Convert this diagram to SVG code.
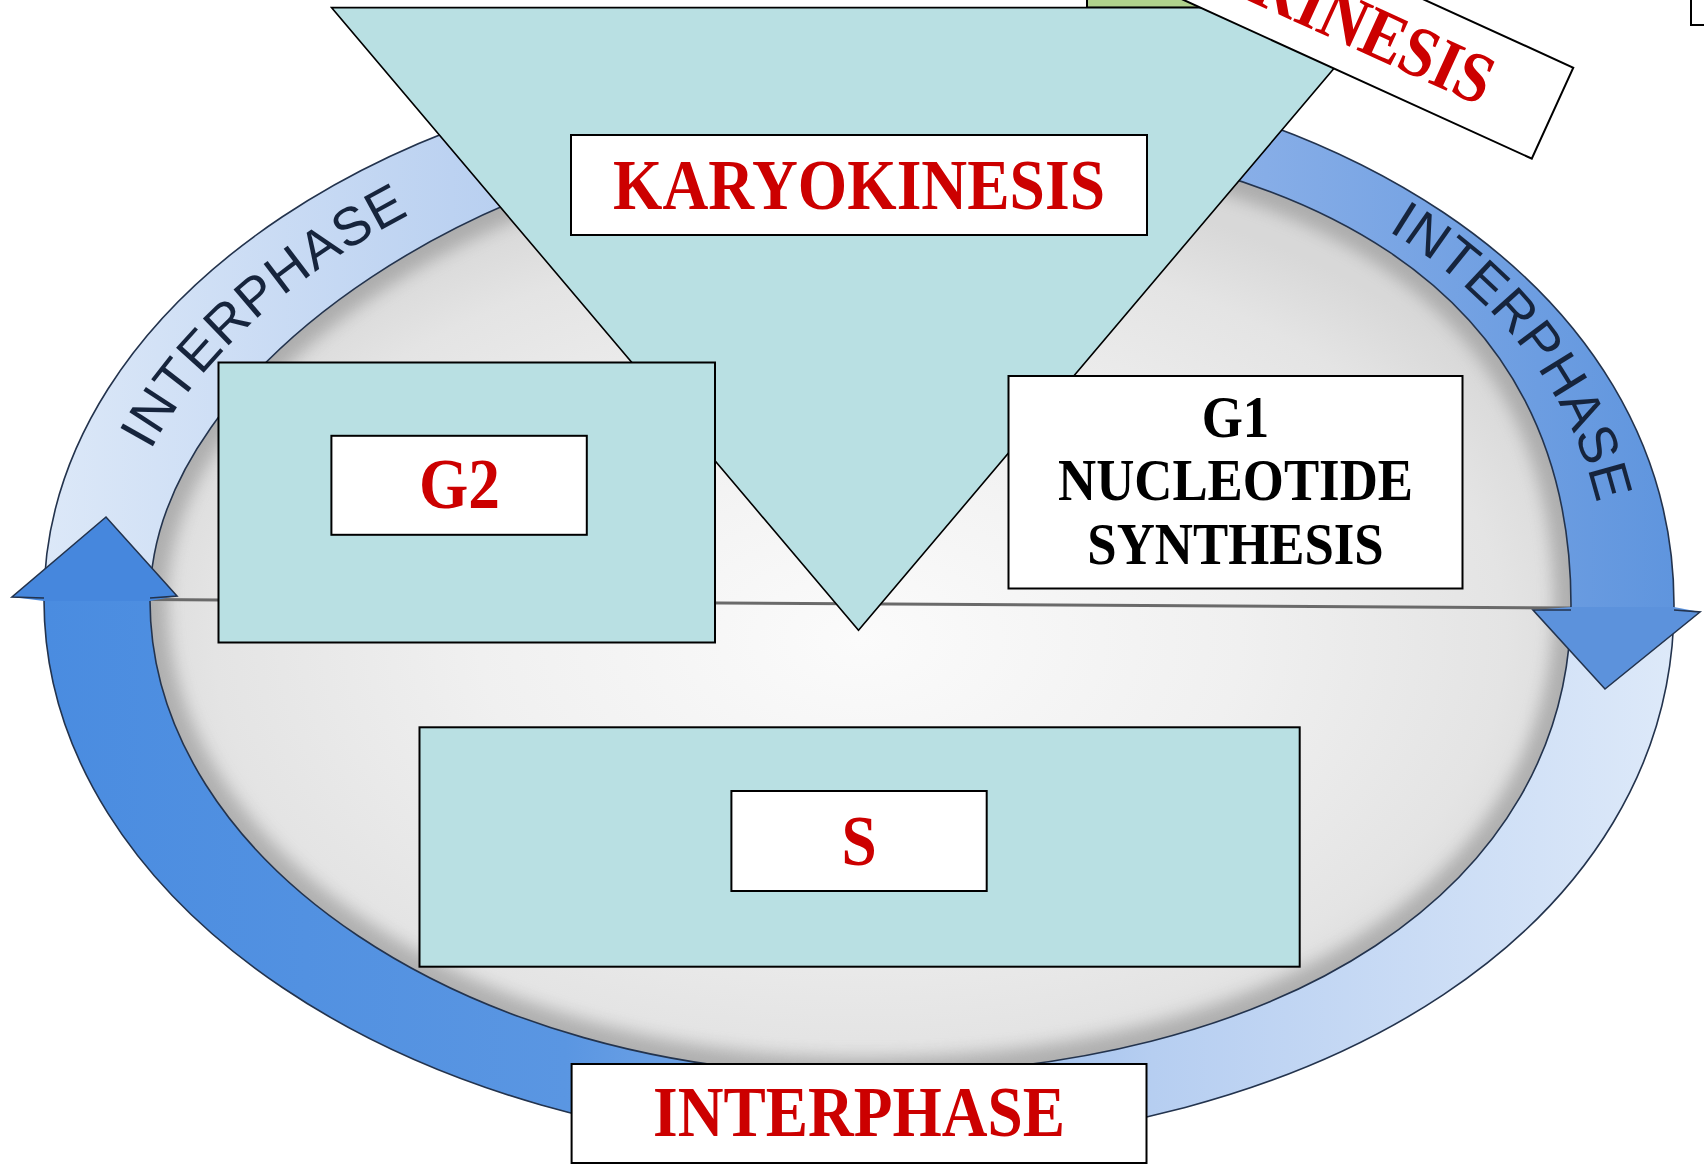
<svg xmlns="http://www.w3.org/2000/svg" width="1704" height="1165" viewBox="0 0 1704 1165">
<defs>
<style>
.teal{fill:#b9e0e3;stroke:#000;stroke-width:2}
.wbox{fill:#fff;stroke:#000;stroke-width:2}
.red{font-family:'Liberation Serif','Times New Roman',serif;font-weight:bold;font-size:72px;fill:#cc0000}
.blk{font-family:'Liberation Serif','Times New Roman',serif;font-weight:bold;font-size:60px;fill:#000}
.ring-lbl{font-family:'Liberation Sans',Arial,sans-serif;font-size:54px;fill:#16243c;letter-spacing:2px}
.edge{fill:none;stroke:#23334d;stroke-width:1.6}
</style>
<linearGradient id="upperGrad" gradientUnits="userSpaceOnUse" x1="44" y1="0" x2="1674" y2="0">
<stop offset="0" stop-color="#dce8f8"/>
<stop offset="0.25" stop-color="#bcd2f1"/>
<stop offset="0.75" stop-color="#86ade7"/>
<stop offset="1" stop-color="#5f95de"/>
</linearGradient>
<linearGradient id="lowerGrad" gradientUnits="userSpaceOnUse" x1="44" y1="0" x2="1674" y2="0">
<stop offset="0" stop-color="#4a8ce0"/>
<stop offset="0.32" stop-color="#5a96e2"/>
<stop offset="0.68" stop-color="#b6cef1"/>
<stop offset="1" stop-color="#dde9f9"/>
</linearGradient>
<radialGradient id="disk" gradientUnits="userSpaceOnUse" cx="860" cy="640" r="760" gradientTransform="translate(860,640) scale(1,0.62) translate(-860,-640)">
<stop offset="0" stop-color="#fbfbfb"/>
<stop offset="0.5" stop-color="#f0f0f0"/>
<stop offset="0.85" stop-color="#e4e4e4"/>
<stop offset="1" stop-color="#d8d8d8"/>
</radialGradient>
<filter id="blur" x="-10%" y="-10%" width="120%" height="120%"><feGaussianBlur stdDeviation="8"/></filter>
<path id="innerC" d="M150,600 C150,365 505,130 860,130 C1322,130 1571,296 1571,605 C1571,887 1286.6,1075 860,1075 C468,1075 150,862 150,600 Z"/>
<path id="outerC" d="M44,600 C44,300.7 408.4,58 858,58 C1331.3,58 1674,287.7 1674,605 C1674,920 1331.3,1148 858,1148 C408.4,1148 44,902.7 44,600 Z"/>
<clipPath id="innerClip"><use href="#innerC"/></clipPath>
<clipPath id="upperClip"><polygon points="0,0 1704,0 1704,611 0,598"/></clipPath>
<clipPath id="lowerClip"><polygon points="0,598 1704,611 1704,1165 0,1165"/></clipPath>
<path id="tlPath" d="M97,600 C97,332.9 456.7,94 859,94"/>
<path id="trPath" d="M859,94 C1326.7,94 1622.5,291.9 1622.5,605"/>
</defs>
<rect x="0" y="0" width="1704" height="1165" fill="#fff"/>

<g id="cell-disk">
<use href="#innerC" fill="url(#disk)"/>
<use href="#innerC" fill="none" stroke="#8a8a8a" stroke-width="34" opacity="0.55" filter="url(#blur)" clip-path="url(#innerClip)"/>
<line x1="150" y1="599.5" x2="1571" y2="608" stroke="#6a6a6a" stroke-width="3"/>
</g>

<g id="connectors">
<path d="M44,600 C44,300.7 408.4,58 858,58 C1331.3,58 1674,287.7 1674,605 C1674,920 1331.3,1148 858,1148 C408.4,1148 44,902.7 44,600 Z M150,600 C150,365 505,130 860,130 C1322,130 1571,296 1571,605 C1571,887 1286.6,1075 860,1075 C468,1075 150,862 150,600 Z" fill="url(#upperGrad)" fill-rule="evenodd" clip-path="url(#upperClip)"/>
<path d="M44,600 C44,300.7 408.4,58 858,58 C1331.3,58 1674,287.7 1674,605 C1674,920 1331.3,1148 858,1148 C408.4,1148 44,902.7 44,600 Z M150,600 C150,365 505,130 860,130 C1322,130 1571,296 1571,605 C1571,887 1286.6,1075 860,1075 C468,1075 150,862 150,600 Z" fill="url(#lowerGrad)" fill-rule="evenodd" clip-path="url(#lowerClip)"/>
<use href="#outerC" class="edge"/>
<use href="#innerC" class="edge"/>
<polygon points="12,597 106,517 177,596 150,601 44,601" fill="#4687dd"/>
<path d="M44,598 L12,597 L106,517 L177,596 L150,598" class="edge"/>
<polygon points="1533,610 1605,689 1700,612 1674,607 1571,607" fill="#5c92dc"/>
<path d="M1571,610 L1533,610 L1605,689 L1700,612 L1674,610" class="edge"/>
<text class="ring-lbl" dy="14"><textPath href="#tlPath" startOffset="346" text-anchor="middle">INTERPHASE</textPath></text>
<text class="ring-lbl" dy="14"><textPath href="#trPath" startOffset="740" text-anchor="middle">INTERPHASE</textPath></text>
</g>

<g id="top-partial-shapes">
<rect x="1087" y="-10" width="250" height="17.6" fill="#b0d28c" stroke="#000" stroke-width="2"/>
<rect x="1691" y="-10" width="40" height="35" class="wbox"/>
</g>

<g id="karyokinesis-triangle">
<polygon points="331.5,7.6 1385.5,7.6 858.5,630.3" fill="#b9e0e3" stroke="#000" stroke-width="1.6"/>
</g>

<g id="cytokinesis-label" transform="translate(1290,-6.5) rotate(24.5)">
<rect x="-288.5" y="-50" width="577" height="100" class="wbox"/>
<text class="red" x="-37" y="23.6" textLength="257" lengthAdjust="spacingAndGlyphs">KINESIS</text>
</g>

<g id="karyokinesis-box">
<rect x="571" y="135" width="576" height="100" class="wbox"/>
<text class="red" x="613" y="208.6" textLength="492" lengthAdjust="spacingAndGlyphs">KARYOKINESIS</text>
</g>

<g id="g2-node">
<rect x="218.5" y="362.5" width="496.5" height="280" class="teal"/>
<rect x="331.4" y="435.8" width="255.4" height="99" class="wbox"/>
<text class="red" x="419" y="507.5" textLength="81" lengthAdjust="spacingAndGlyphs">G2</text>
</g>

<g id="g1-node">
<rect x="1008.5" y="376" width="454" height="212.5" class="wbox"/>
<text class="blk" x="1201.7" y="437" textLength="67.5" lengthAdjust="spacingAndGlyphs">G1</text>
<text class="blk" x="1058" y="500" textLength="355" lengthAdjust="spacingAndGlyphs">NUCLEOTIDE</text>
<text class="blk" x="1087.3" y="564" textLength="296.4" lengthAdjust="spacingAndGlyphs">SYNTHESIS</text>
</g>

<g id="s-node">
<rect x="419.5" y="727.3" width="880.2" height="239.4" class="teal"/>
<rect x="731.4" y="791" width="255.3" height="100" class="wbox"/>
<text class="red" x="841.4" y="865" textLength="35.2" lengthAdjust="spacingAndGlyphs">S</text>
</g>

<g id="interphase-node">
<rect x="571.6" y="1064" width="574.9" height="99" class="wbox"/>
<text class="red" x="653" y="1135.6" textLength="412" lengthAdjust="spacingAndGlyphs">INTERPHASE</text>
</g>
</svg>
